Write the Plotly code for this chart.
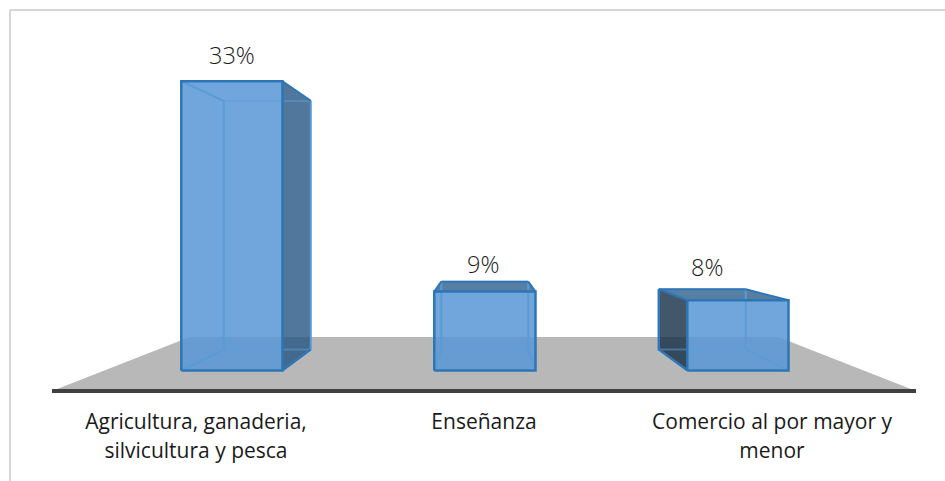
import plotly.graph_objects as go

categories = ["Agricultura, ganaderia,<br>silvicultura y pesca", "Enseñanza", "Comercio al por mayor y<br>menor"]
values = [33, 9, 8]
value_labels = ["33%", "9%", "8%"]

# perspective model of the 3D column chart
BAR_W = 0.4
BAR_SHIFT = 0.0035
S_FRONT, S_BACK, S_FLOOR = 0.8785, 0.755, 0.681
VP_X, VP_Y = 1.0, 17.0
FONT = "Open Sans"
TEXT = "#1a1a1a"
EDGE_DARK = "#2e75b6"
EDGE_LIGHT = "#5b9bd5"
EDGE_SOFT = "rgba(91,155,213,0.5)"


def proj(x, y, s):
    return VP_X + (x - VP_X) * s, VP_Y + (y - VP_Y) * s


def corners(i, v, s):
    x0, x1 = i + BAR_SHIFT - BAR_W / 2, i + BAR_SHIFT + BAR_W / 2
    return {
        "bl": proj(x0, 0, s), "br": proj(x1, 0, s),
        "tl": proj(x0, v, s), "tr": proj(x1, v, s),
    }


def poly(points, fill=None, line=None, width=0):
    xs = [p[0] for p in points]
    ys = [p[1] for p in points]
    return go.Scatter(
        x=xs, y=ys, mode="lines" if line else "none",
        fill="toself" if fill else None, fillcolor=fill,
        line=dict(color=line, width=width, simplify=False) if line else None,
        hoverinfo="skip", showlegend=False,
    )


fig = go.Figure()

# floor
fig.add_trace(poly([proj(-0.5, 0, 1), proj(2.5, 0, 1), proj(2.5, 0, S_FLOOR), proj(-0.5, 0, S_FLOOR)], fill="#b8b8b8"))

for i, v in enumerate(values):
    f = corners(i, v, S_FRONT)
    b = corners(i, v, S_BACK)
    # visible outer faces
    if i < VP_X:
        fig.add_trace(poly([f["tr"], b["tr"], b["br"], f["br"]], fill="rgba(37,86,131,0.8)"))
    if i > VP_X:
        fig.add_trace(poly([f["tl"], b["tl"], b["bl"], f["bl"]], fill="rgba(20,45,70,0.8)"))
    if v < VP_Y:
        fig.add_trace(poly([f["tl"], f["tr"], b["tr"], b["tl"]], fill="rgba(45,95,140,0.8)"))
    # front face
    fig.add_trace(poly([f["bl"], f["br"], f["tr"], f["tl"]], fill="rgba(87,150,214,0.85)"))
    # inner wireframe
    for a, c in [(b["bl"], b["br"]), (b["tr"], b["tl"])]:
        fig.add_trace(poly([a, c], line=EDGE_SOFT, width=2))
    for a, c in [(b["br"], b["tr"]), (b["tl"], b["bl"]), (f["bl"], b["bl"]), (f["br"], b["br"])]:
        fig.add_trace(poly([a, c], line=EDGE_LIGHT, width=2))
    # strong edges
    fig.add_trace(poly([f["tl"], b["tl"]], line=EDGE_DARK if v < VP_Y else EDGE_LIGHT, width=2))
    fig.add_trace(poly([f["tr"], b["tr"]], line=EDGE_DARK, width=2))
    if v < VP_Y:
        fig.add_trace(poly([b["tl"], b["tr"]], line=EDGE_DARK, width=2))
    if i < VP_X:
        fig.add_trace(poly([f["br"], b["br"]], line=EDGE_DARK, width=2))
    if i > VP_X:
        fig.add_trace(poly([f["bl"], b["bl"], b["tl"]], line=EDGE_DARK, width=2))
    fig.add_trace(poly([f["bl"], f["br"], f["tr"], f["tl"], f["bl"]], line=EDGE_DARK, width=2.5))

label_shift = [(1, 8), (-1, 10), (-30, 15)]
annotations = []
for i, v in enumerate(values):
    x, y = proj(i, v, S_FRONT)
    annotations.append(dict(
        x=x, y=y, xref="x", yref="y", text=value_labels[i], showarrow=False,
        xshift=label_shift[i][0], yshift=label_shift[i][1], yanchor="bottom",
        font=dict(family=FONT, size=23.5, color=TEXT, weight=300),
    ))

TICK_PX = 21
ticktext = ["<br>".join(f'<span style="font-size:{TICK_PX}px">{p}</span>' for p in c.split("<br>")) for c in categories]

PW, PH = 864, 389
fig.update_layout(
    width=945, height=481,
    margin=dict(l=52, r=29, t=0, b=92, pad=0),
    paper_bgcolor="white", plot_bgcolor="rgba(0,0,0,0)",
    xaxis=dict(
        range=[-0.5, 2.5], tickmode="array", tickvals=[0, 1, 2], ticktext=ticktext,
        showgrid=False, zeroline=False, showline=True, linecolor="#404040", linewidth=4,
        ticks="", tickfont=dict(family=FONT, size=22, color=TEXT), tickangle=0,
        ticklabelstandoff=10, automargin=False,
    ),
    yaxis=dict(range=[0.2, 39.2], visible=False, fixedrange=True),
    annotations=annotations,
    shapes=[
        dict(type="line", xref="paper", yref="paper", x0=(10 - 52) / PW, x1=(945 - 52) / PW,
             y0=(PH - 10) / PH, y1=(PH - 10) / PH, line=dict(color="#c8c8c8", width=1.5)),
        dict(type="line", xref="paper", yref="paper", x0=(10 - 52) / PW, x1=(10 - 52) / PW,
             y0=(PH - 10) / PH, y1=(PH - 481) / PH, line=dict(color="#c8c8c8", width=1.5)),
    ],
)
fig.write_html("out.html", config=dict(displayModeBar=False),
               post_script="document.body.style.margin='0';")
